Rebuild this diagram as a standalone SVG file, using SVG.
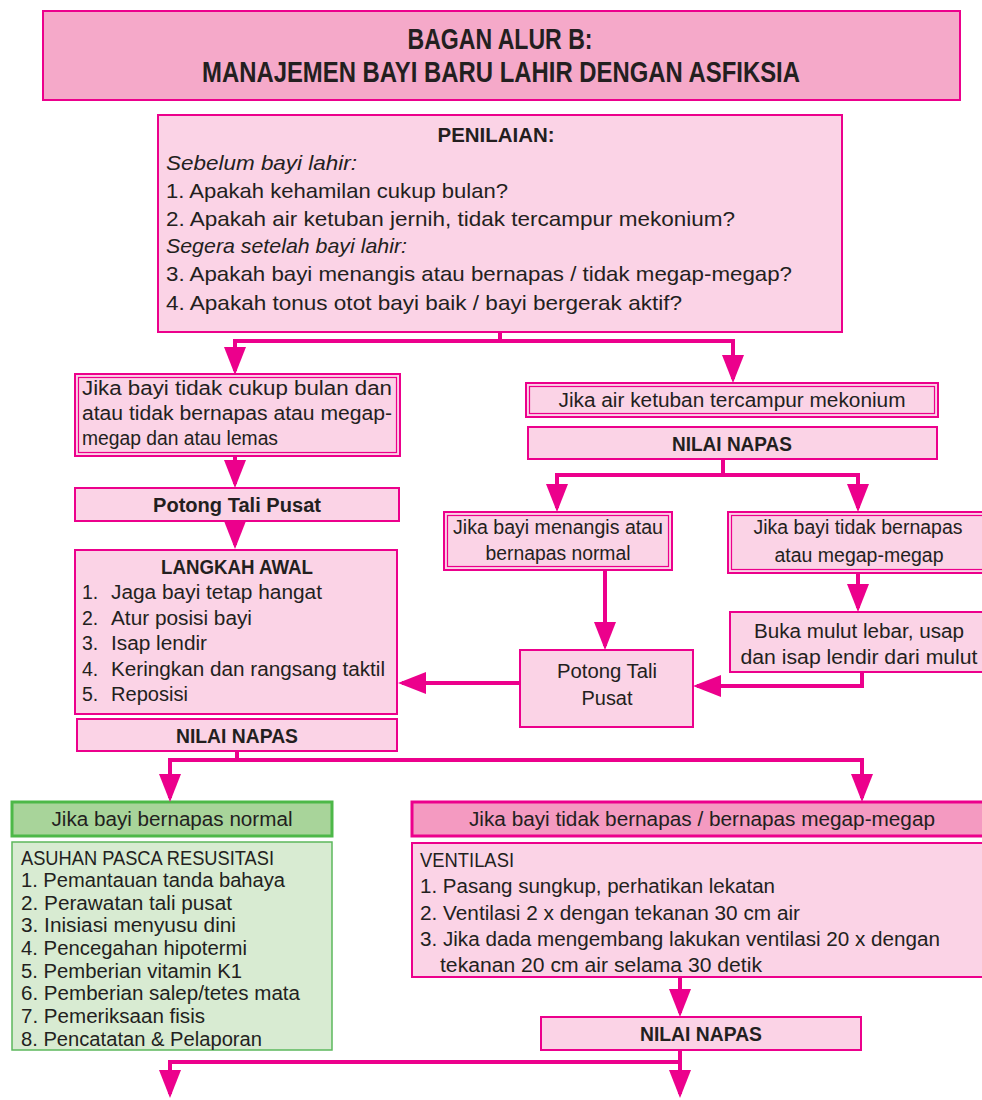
<svg xmlns="http://www.w3.org/2000/svg" width="982" height="1100" viewBox="0 0 982 1100">
<style>
text{font-family:"Liberation Sans",Arial,sans-serif;fill:#231f20;}
.b{font-weight:bold;}
.i{font-style:italic;}
.box{fill:#fbd3e6;stroke:#ec008c;stroke-width:2;}
.in{fill:none;stroke:#ec008c;stroke-width:1.2;}
.ttl{fill:#f5a9c9;stroke:#ec008c;stroke-width:2;}
.dk{fill:#f49ac1;stroke:#ec008c;stroke-width:3;}
.gh{fill:#a8d49a;stroke:#4db848;stroke-width:3;}
.gb{fill:#d8ebd2;stroke:#5cb85c;stroke-width:1.5;}
.c{fill:none;stroke:#ec008c;stroke-width:4;}
.s17{font-size:19.5px;}
.s19{font-size:21px;}
</style>
<defs>
<marker id="ah" markerUnits="userSpaceOnUse" markerWidth="30" markerHeight="24" refX="24" refY="11" orient="auto">
<path d="M0,0 L28,11 L0,22 z" fill="#ec008c"/>
</marker>
</defs>
<rect width="982" height="1100" fill="#ffffff"/>

<g id="title">
<rect class="ttl" x="43" y="11" width="917" height="89"/>
<text class="b" x="500" y="49" font-size="29" text-anchor="middle" textLength="185" lengthAdjust="spacingAndGlyphs">BAGAN ALUR B:</text>
<text class="b" x="501" y="82" font-size="29" text-anchor="middle" textLength="598" lengthAdjust="spacingAndGlyphs">MANAJEMEN BAYI BARU LAHIR DENGAN ASFIKSIA</text>
</g>

<g id="penilaian">
<rect class="box" x="158" y="115" width="684" height="217"/>
<text class="b s19" x="496" y="142" text-anchor="middle" textLength="117" lengthAdjust="spacingAndGlyphs">PENILAIAN:</text>
<text class="i s19" x="166" y="170" textLength="191" lengthAdjust="spacingAndGlyphs">Sebelum bayi lahir:</text>
<text class="s19" x="166" y="198" textLength="342" lengthAdjust="spacingAndGlyphs">1. Apakah kehamilan cukup bulan?</text>
<text class="s19" x="166" y="226" textLength="569" lengthAdjust="spacingAndGlyphs">2. Apakah air ketuban jernih, tidak tercampur mekonium?</text>
<text class="i s19" x="166" y="253" textLength="241" lengthAdjust="spacingAndGlyphs">Segera setelah bayi lahir:</text>
<text class="s19" x="166" y="281" textLength="626" lengthAdjust="spacingAndGlyphs">3. Apakah bayi menangis atau bernapas / tidak megap-megap?</text>
<text class="s19" x="166" y="310" textLength="516" lengthAdjust="spacingAndGlyphs">4. Apakah tonus otot bayi baik / bayi bergerak aktif?</text>
</g>

<g id="tidak-cukup-bulan">
<rect class="box" x="75" y="374" width="325" height="82"/>
<rect class="in" x="78.5" y="377.5" width="318" height="75"/>
<text class="s17" x="82" y="395" textLength="310" lengthAdjust="spacingAndGlyphs">Jika bayi tidak cukup bulan dan</text>
<text class="s17" x="82" y="420" textLength="310" lengthAdjust="spacingAndGlyphs">atau tidak bernapas atau megap-</text>
<text class="s17" x="82" y="445" textLength="196" lengthAdjust="spacingAndGlyphs">megap dan atau lemas</text>
</g>

<g id="potong-tali-pusat-1">
<rect class="box" x="75" y="488" width="324" height="33"/>
<text class="b s17" x="237" y="512" text-anchor="middle" textLength="168" lengthAdjust="spacingAndGlyphs">Potong Tali Pusat</text>
</g>

<g id="langkah-awal">
<rect class="box" x="75" y="550" width="322" height="164"/>
<text class="b s17" x="237" y="574" text-anchor="middle" textLength="152" lengthAdjust="spacingAndGlyphs">LANGKAH AWAL</text>
<text class="s17" x="82" y="599">1.</text><text class="s17" x="111" y="599" textLength="211" lengthAdjust="spacingAndGlyphs">Jaga bayi tetap hangat</text>
<text class="s17" x="82" y="625">2.</text><text class="s17" x="111" y="625" textLength="141" lengthAdjust="spacingAndGlyphs">Atur posisi bayi</text>
<text class="s17" x="82" y="650">3.</text><text class="s17" x="111" y="650" textLength="96" lengthAdjust="spacingAndGlyphs">Isap lendir</text>
<text class="s17" x="82" y="676">4.</text><text class="s17" x="111" y="676" textLength="274" lengthAdjust="spacingAndGlyphs">Keringkan dan rangsang taktil</text>
<text class="s17" x="82" y="701">5.</text><text class="s17" x="111" y="701" textLength="77" lengthAdjust="spacingAndGlyphs">Reposisi</text>
</g>

<g id="nilai-napas-1">
<rect class="box" x="77" y="719" width="320" height="32"/>
<text class="b s17" x="237" y="743" text-anchor="middle" textLength="122" lengthAdjust="spacingAndGlyphs">NILAI NAPAS</text>
</g>

<g id="mekonium">
<rect class="box" x="526" y="383" width="412" height="34"/>
<rect class="in" x="529.5" y="386.5" width="405" height="27"/>
<text class="s17" x="732" y="407" text-anchor="middle" textLength="347" lengthAdjust="spacingAndGlyphs">Jika air ketuban tercampur mekonium</text>
</g>

<g id="nilai-napas-2">
<rect class="box" x="528" y="427" width="409" height="32"/>
<text class="b s17" x="732" y="451" text-anchor="middle" textLength="120" lengthAdjust="spacingAndGlyphs">NILAI NAPAS</text>
</g>

<g id="menangis">
<rect class="box" x="444" y="512" width="228" height="58"/>
<rect class="in" x="447.5" y="515.5" width="221" height="51"/>
<text class="s17" x="558" y="534" text-anchor="middle" textLength="210" lengthAdjust="spacingAndGlyphs">Jika bayi menangis atau</text>
<text class="s17" x="558" y="560" text-anchor="middle" textLength="145" lengthAdjust="spacingAndGlyphs">bernapas normal</text>
</g>

<g id="tidak-bernapas-1">
<rect class="box" x="728" y="512" width="260" height="61"/>
<rect class="in" x="731.5" y="515.5" width="260" height="54"/>
<text class="s17" x="858" y="534" text-anchor="middle" textLength="209" lengthAdjust="spacingAndGlyphs">Jika bayi tidak bernapas</text>
<text class="s17" x="859" y="562" text-anchor="middle" textLength="169" lengthAdjust="spacingAndGlyphs">atau megap-megap</text>
</g>

<g id="buka-mulut">
<rect class="box" x="730" y="612" width="258" height="60"/>
<text class="s17" x="859" y="638" text-anchor="middle" textLength="210" lengthAdjust="spacingAndGlyphs">Buka mulut lebar, usap</text>
<text class="s17" x="859" y="664" text-anchor="middle" textLength="237" lengthAdjust="spacingAndGlyphs">dan isap lendir dari mulut</text>
</g>

<g id="potong-tali-pusat-2">
<rect class="box" x="520" y="650" width="173" height="77"/>
<text class="s17" x="607" y="678" text-anchor="middle" textLength="100" lengthAdjust="spacingAndGlyphs">Potong Tali</text>
<text class="s17" x="607" y="705" text-anchor="middle" textLength="51" lengthAdjust="spacingAndGlyphs">Pusat</text>
</g>

<g id="bernapas-normal">
<rect class="gh" x="12" y="802" width="320" height="34"/>
<text class="s17" x="172" y="826" text-anchor="middle" textLength="241" lengthAdjust="spacingAndGlyphs">Jika bayi bernapas normal</text>
</g>

<g id="asuhan">
<rect class="gb" x="12" y="842" width="320" height="208"/>
<text class="s17" x="21" y="865" textLength="253" lengthAdjust="spacingAndGlyphs">ASUHAN PASCA RESUSITASI</text>
<text class="s17" x="21" y="887" textLength="264" lengthAdjust="spacingAndGlyphs">1. Pemantauan tanda bahaya</text>
<text class="s17" x="21" y="910" textLength="211" lengthAdjust="spacingAndGlyphs">2. Perawatan tali pusat</text>
<text class="s17" x="21" y="932" textLength="215" lengthAdjust="spacingAndGlyphs">3. Inisiasi menyusu dini</text>
<text class="s17" x="21" y="955" textLength="226" lengthAdjust="spacingAndGlyphs">4. Pencegahan hipotermi</text>
<text class="s17" x="21" y="978" textLength="221" lengthAdjust="spacingAndGlyphs">5. Pemberian vitamin K1</text>
<text class="s17" x="21" y="1000" textLength="279" lengthAdjust="spacingAndGlyphs">6. Pemberian salep/tetes mata</text>
<text class="s17" x="21" y="1023" textLength="184" lengthAdjust="spacingAndGlyphs">7. Pemeriksaan fisis</text>
<text class="s17" x="21" y="1046" textLength="241" lengthAdjust="spacingAndGlyphs">8. Pencatatan &amp; Pelaporan</text>
</g>

<g id="tidak-bernapas-2">
<rect class="dk" x="412" y="802" width="576" height="34"/>
<text class="s17" x="702" y="826" text-anchor="middle" textLength="466" lengthAdjust="spacingAndGlyphs">Jika bayi tidak bernapas / bernapas megap-megap</text>
</g>

<g id="ventilasi">
<rect class="box" x="412" y="843" width="576" height="134"/>
<text class="s17" x="420" y="867" textLength="94" lengthAdjust="spacingAndGlyphs">VENTILASI</text>
<text class="s17" x="420" y="893" textLength="355" lengthAdjust="spacingAndGlyphs">1. Pasang sungkup, perhatikan lekatan</text>
<text class="s17" x="420" y="920" textLength="380" lengthAdjust="spacingAndGlyphs">2. Ventilasi 2 x dengan tekanan 30 cm air</text>
<text class="s17" x="420" y="946" textLength="520" lengthAdjust="spacingAndGlyphs">3. Jika dada mengembang lakukan ventilasi 20 x dengan</text>
<text class="s17" x="440" y="972" textLength="322" lengthAdjust="spacingAndGlyphs">tekanan 20 cm air selama 30 detik</text>
</g>

<g id="nilai-napas-3">
<rect class="box" x="541" y="1017" width="320" height="33"/>
<text class="b s17" x="701" y="1041" text-anchor="middle" textLength="122" lengthAdjust="spacingAndGlyphs">NILAI NAPAS</text>
</g>

<g id="connectors">
<path class="c" d="M500,332 V341"/>
<path class="c" d="M500,341 H235 V371" marker-end="url(#ah)"/>
<path class="c" d="M500,341 H733 V379" marker-end="url(#ah)"/>
<path class="c" d="M235,456 V484" marker-end="url(#ah)"/>
<path class="c" d="M235,521 V545" marker-end="url(#ah)"/>
<path class="c" d="M723,459 V475"/>
<path class="c" d="M723,475 H557 V508" marker-end="url(#ah)"/>
<path class="c" d="M723,475 H858 V508" marker-end="url(#ah)"/>
<path class="c" d="M605,570 V646" marker-end="url(#ah)"/>
<path class="c" d="M858,573 V608" marker-end="url(#ah)"/>
<path class="c" d="M862,672 V686 H697" marker-end="url(#ah)"/>
<path class="c" d="M520,683 H402" marker-end="url(#ah)"/>
<path class="c" d="M237,751 V760"/>
<path class="c" d="M237,760 H170 V798" marker-end="url(#ah)"/>
<path class="c" d="M237,760 H862 V798" marker-end="url(#ah)"/>
<path class="c" d="M680,977 V1013" marker-end="url(#ah)"/>
<path class="c" d="M680,1050 V1062"/>
<path class="c" d="M680,1062 H170 V1094" marker-end="url(#ah)"/>
<path class="c" d="M680,1062 V1094" marker-end="url(#ah)"/>
</g>
</svg>
